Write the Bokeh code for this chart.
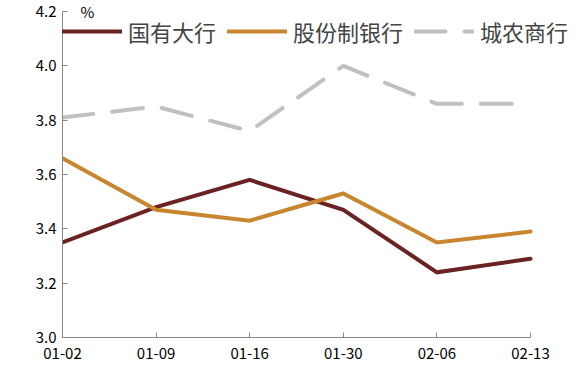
from bokeh.plotting import figure
from bokeh.models import Range1d, FixedTicker, Legend, LegendItem, Label
from bokeh.embed import file_html
from bokeh.resources import INLINE

dates = ["01-02", "01-09", "01-16", "01-30", "02-06", "02-13"]
big_banks = [3.35, 3.48, 3.58, 3.47, 3.24, 3.29]
joint_stock = [3.66, 3.47, 3.43, 3.53, 3.35, 3.39]
city_rural = [3.81, 3.85, 3.76, 4.00, 3.86, 3.86]
names = ["国有大行", "股份制银行", "城农商行"]
y_ticks = [3.0, 3.2, 3.4, 3.6, 3.8, 4.0, 4.2]

FONT = "Noto Sans CJK SC"
xs = list(range(len(dates)))

# frame spans the whole top/right area so the legend and "%" are not clipped;
# axes are bounded to the data range
p = figure(width=578, height=365, output_backend="svg", toolbar_location=None,
           x_range=Range1d(0, 5.5128), y_range=Range1d(3.0, 4.2405),
           min_border_left=62, min_border_right=0, min_border_top=0, min_border_bottom=28)
p.outline_line_color = None
p.xgrid.visible = False
p.ygrid.visible = False

r1 = p.line(xs, big_banks, line_color="#6B2222", line_width=4, line_join="miter", line_cap="round")
r2 = p.line(xs, joint_stock, line_color="#C8862E", line_width=4, line_join="miter", line_cap="round")
r3 = p.line(xs, city_rural, line_color="#C0C0C0", line_width=4, line_dash="31 19",
            line_cap="round", line_join="round")

for ax in (p.xaxis[0], p.yaxis[0]):
    ax.axis_line_color = "#888888"
    ax.major_tick_line_color = "#888888"
    ax.major_tick_in = 5
    ax.major_tick_out = 0
    ax.minor_tick_line_color = None
    ax.major_label_text_font = FONT
    ax.major_label_text_font_size = "15px"
    ax.major_label_text_color = "#000000"

p.xaxis.ticker = FixedTicker(ticks=xs)
p.xaxis.bounds = (0, 5)
p.xaxis.major_label_overrides = {i: d for i, d in enumerate(dates)}
p.xaxis.major_label_standoff = 10
p.yaxis.ticker = FixedTicker(ticks=y_ticks)
p.yaxis.bounds = (3.0, 4.2)
p.yaxis.major_label_overrides = {t: f"{t:.1f}" for t in y_ticks}
p.yaxis.major_label_standoff = 6

legend = Legend(items=[LegendItem(label=names[0], renderers=[r1]),
                       LegendItem(label=names[1], renderers=[r2]),
                       LegendItem(label=names[2], renderers=[r3])],
                orientation="horizontal", location=(0, 290),
                glyph_width=60, glyph_height=24, label_standoff=6, spacing=11,
                label_text_font=FONT, label_text_font_size="22px",
                background_fill_alpha=0, border_line_color=None, padding=0, margin=0)
p.add_layout(legend, "center")

pct = Label(x=18, y=316, x_units="screen", y_units="screen", text="%",
            text_font=FONT, text_font_size="15px", text_color="#000000")
p.add_layout(pct)

open("out.html", "w").write(file_html(p, INLINE))
